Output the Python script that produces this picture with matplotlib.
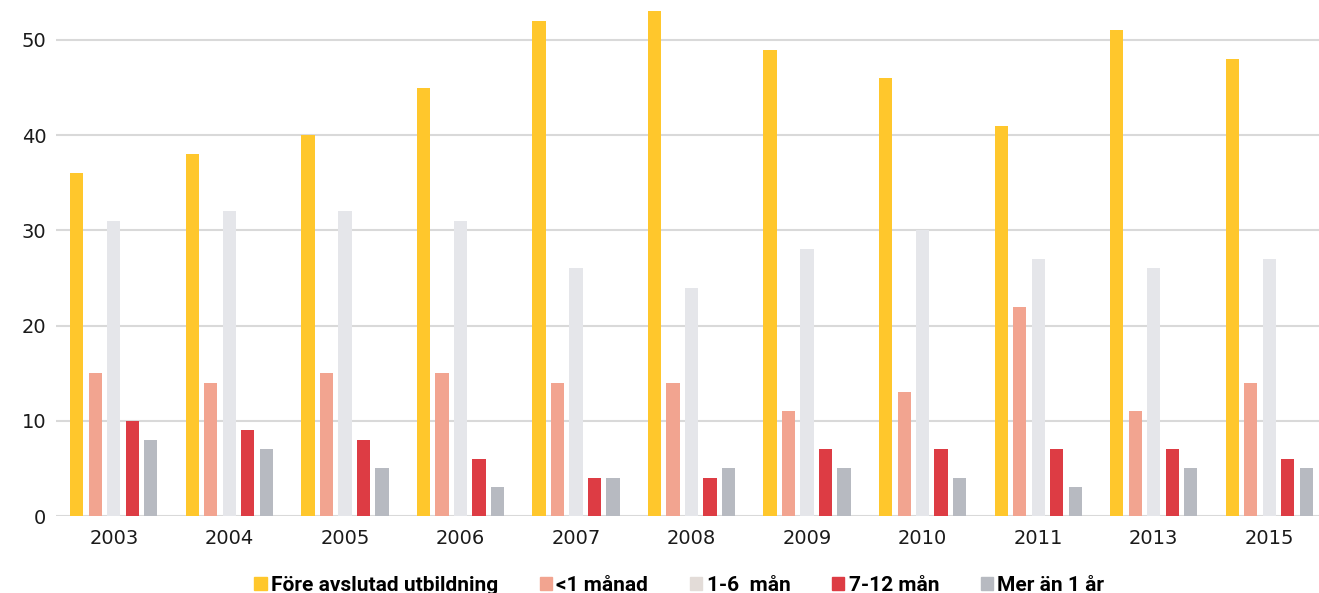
"""Grouped bar chart: tid till första jobb per år."""
import matplotlib.pyplot as plt
import numpy as np
from matplotlib.patches import Patch

years = ['2003', '2004', '2005', '2006', '2007', '2008', '2009', '2010', '2011', '2013', '2015']
series_names = ['Före avslutad utbildning', '<1 månad', '1-6  mån', '7-12 mån', 'Mer än 1 år']
fore = [36, 38, 40, 45, 52, 53, 49, 46, 41, 51, 48]
under_1 = [15, 14, 15, 15, 14, 14, 11, 13, 22, 11, 14]
m1_6 = [31, 32, 32, 31, 26, 24, 28, 30, 27, 26, 27]
m7_12 = [10, 9, 8, 6, 4, 4, 7, 7, 7, 7, 6]
over_1y = [8, 7, 5, 3, 4, 5, 5, 4, 3, 5, 5]
yticks = [0, 10, 20, 30, 40, 50]

colors = ['#FFC72C', '#F2A490', '#E5E6EA', '#DD3C44', '#B7BAC1']
legend_colors = ['#FFC72C', '#F2A490', '#E3DCD8', '#DD3C44', '#B7BAC1']

fig = plt.figure(figsize=(13.19, 5.93), dpi=100)
ax = fig.add_axes([56 / 1319, 77 / 593, 1 - 56 / 1319, 516 / 593])

x = np.arange(len(years))
step = 0.16
width = 0.115
for i, vals in enumerate([fore, under_1, m1_6, m7_12, over_1y]):
    ax.bar(x + (i - 2) * step, vals, width=width, color=colors[i], zorder=3)

ax.set_xlim(-0.5, 10.43)
ax.set_ylim(0, 54.2)
ax.set_yticks(yticks)
ax.set_xticks(x)
ax.set_xticklabels(years)
ax.grid(axis='y', color='#D9D9D9', linewidth=1.5, zorder=0)
ax.tick_params(axis='both', length=0, labelsize=14, colors='#1a1a1a')
ax.tick_params(axis='y', pad=7)
ax.tick_params(axis='x', pad=9)
for side in ['top', 'right', 'left', 'bottom']:
    ax.spines[side].set_visible(False)

handles = [Patch(color=c) for c in legend_colors]
fig.legend(handles, series_names, loc='lower center', bbox_to_anchor=(0.515, -0.035),
           ncol=5, frameon=False, handlelength=0.6, handleheight=0.6, handletextpad=0.2,
           columnspacing=2.0, prop={'family': ['Liberation Sans Narrow', 'Roboto'],
                                    'weight': 'bold', 'size': 15})

plt.savefig('out.png', dpi=100)
plt.close()
